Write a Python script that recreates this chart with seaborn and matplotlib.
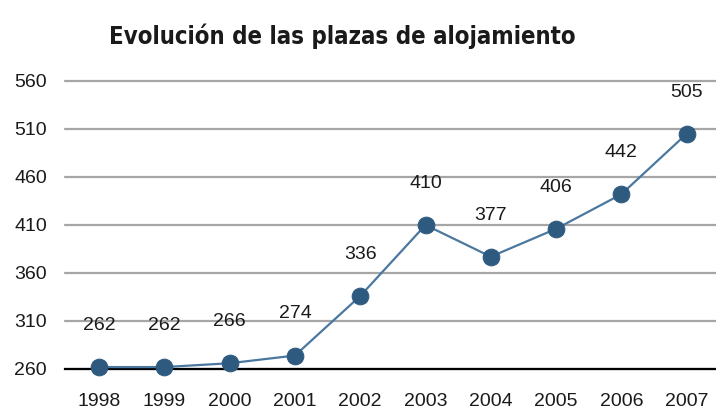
import matplotlib
matplotlib.use("Agg")
import matplotlib.pyplot as plt
import seaborn as sns
import pandas as pd

years = ["1998", "1999", "2000", "2001", "2002", "2003", "2004", "2005", "2006", "2007"]
plazas = [262, 262, 266, 274, 336, 410, 377, 406, 442, 505]
y_ticks = [260, 310, 360, 410, 460, 510, 560]

df = pd.DataFrame({"pos": range(len(years)), "year": years, "plazas": plazas})

sns.set_style("white")
plt.rcParams["font.family"] = ["Liberation Sans", "DejaVu Sans"]

fig = plt.figure(figsize=(7.16, 4.12), dpi=100)
ax = fig.add_axes([0.091, 0.1044, 0.909, 0.699])

sns.lineplot(data=df, x="pos", y="plazas", ax=ax, color="#4a78a0", linewidth=1.6,
             marker="o", markersize=12, markerfacecolor="#2f5a80",
             markeredgecolor="#2f5a80", zorder=3, clip_on=False)

for i, v in enumerate(plazas):
    ax.annotate(str(v), (i, v), xytext=(0, 30), textcoords="offset points",
                ha="center", va="center", fontsize=14, color="#1a1a1a")

ax.set_xlim(-0.52, 9.45)
ax.set_ylim(260, 560)
ax.set_yticks(y_ticks)
ax.set_xticks(range(len(years)))
ax.set_xticklabels(years)
ax.yaxis.grid(True, color="#a6a6a6", linewidth=1.6, clip_on=False)
ax.set_axisbelow(True)
for s in ["top", "right", "left"]:
    ax.spines[s].set_visible(False)
ax.spines["bottom"].set_color("black")
ax.spines["bottom"].set_linewidth(1.6)
ax.tick_params(axis="both", length=0, labelsize=14, colors="#1a1a1a")
ax.tick_params(axis="y", pad=13)
ax.tick_params(axis="x", pad=17)
ax.set_xlabel("")
ax.set_ylabel("")

fig.text(0.478, 0.893, "Evolución de las plazas de alojamiento", ha="center", va="baseline",
         fontsize=17.2, color="#1a1a1a", fontweight="bold", fontstretch="condensed",
         family=["DejaVu Sans"])

fig.savefig("out.png", dpi=100)
